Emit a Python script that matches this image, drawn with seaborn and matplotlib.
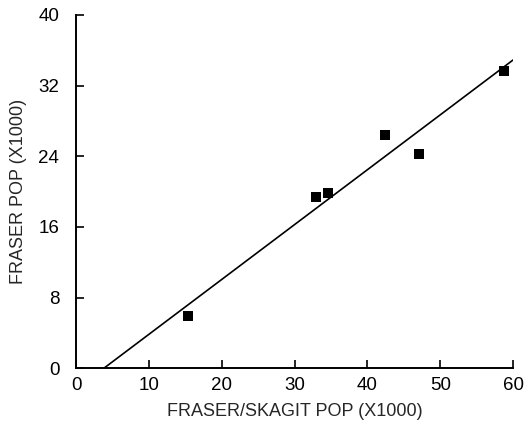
import matplotlib
matplotlib.use("Agg")
import matplotlib.pyplot as plt
import seaborn as sns
import pandas as pd

fraser_skagit = [15.4, 33.0, 34.6, 42.4, 47.1, 58.7]
fraser = [5.9, 19.35, 19.8, 26.4, 24.3, 33.7]
x_ticks = [0, 10, 20, 30, 40, 50, 60]
y_ticks = [0, 8, 16, 24, 32, 40]

df = pd.DataFrame({"x": fraser_skagit, "y": fraser})

sns.set_style("ticks")
plt.rcParams["font.family"] = ["Liberation Sans", "DejaVu Sans"]

fig = plt.figure(figsize=(5.28, 4.37), dpi=100)
ax = fig.add_axes([0.144, 0.157, 0.828, 0.809])
ax.set_xlim(0, 60)
ax.set_ylim(0, 40)
sns.regplot(data=df, x="x", y="y", ax=ax, ci=None, truncate=False, marker="s",
            scatter_kws={"s": 60, "color": "black", "alpha": 1, "edgecolor": "black",
                         "linewidths": 0, "zorder": 3},
            line_kws={"color": "black", "lw": 1.2})
ax.set_xlim(0, 60)
ax.set_ylim(0, 40)
ax.set_xticks(x_ticks)
ax.set_yticks(y_ticks)
ax.tick_params(direction="in", length=6, width=1.2, labelsize=13.5, colors="black")
ax.tick_params(axis="y", pad=12)
ax.tick_params(axis="x", pad=6)
for s in ["top", "right"]:
    ax.spines[s].set_visible(False)
for s in ["left", "bottom"]:
    ax.spines[s].set_linewidth(1.4)
    ax.spines[s].set_color("black")
ax.set_xlabel("FRASER/SKAGIT POP (X1000)", fontsize=13, labelpad=7)
ax.set_ylabel("FRASER POP (X1000)", fontsize=13, labelpad=8)
fig.savefig("out.png", dpi=100)
